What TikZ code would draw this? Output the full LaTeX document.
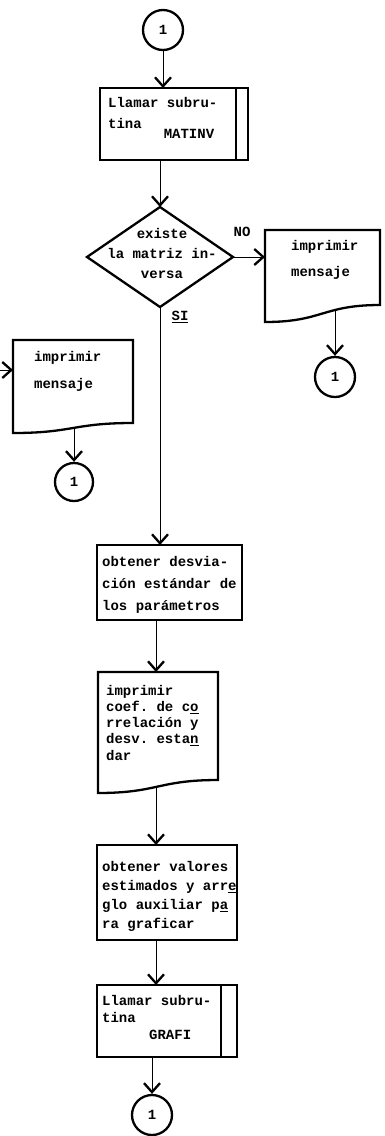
\documentclass[tikz,border=0pt]{standalone}
\usepackage{fontspec}
\setmonofont{Liberation Mono}
\usetikzlibrary{arrows.meta,shapes.geometric,calc,backgrounds}
\begin{document}
\begin{tikzpicture}[x=1pt,y=-1pt,
  line width=2.3pt,
  every node/.style={inner sep=0pt},
  tfont/.style={font=\ttfamily\bfseries\fontsize{14}{#1}\selectfont},
  txt/.style={tfont=#1, align=left, anchor=west},
  proc/.style={draw, fill=white, rectangle, outer sep=0pt},
  spot/.style={rectangle, outer sep=0pt},
  conn/.style={draw, fill=white, circle, minimum size=40, tfont=16},
  dia/.style={draw, fill=white, diamond, outer sep=0pt},
  arr/.style={-{Straight Barb[length=9pt,width=16pt,line width=2.3pt]}}]
\useasboundingbox (0,0) rectangle (384,1136);

% ---------- shapes ----------
\node[conn] (c1) at (163,30) {1};

\node[proc, minimum width=148, minimum height=72] (b1) at (174,124) {};
\draw ($(b1.north east)+(-12,0)$) -- ($(b1.south east)+(-12,0)$);
\node[txt=21] (b1t) at (107,117.5) {Llamar subru-\\tina\hspace*{22pt}\raisebox{-10pt}{MATINV}};

\node[dia, minimum width=146, minimum height=100] (d1) at (160,257) {};
\node[tfont=20, align=center] (d1t) at (162,253) {existe\\la matriz in-\\versa};

\node[tfont=20] (no) at (242,232) {NO};
\node[tfont=20] (si) at (180,317) {\underline{SI}};

\node[spot, minimum width=115, minimum height=75] (doc2) at (322.5,267.5) {};
\draw[fill=white] (doc2.north west) -- (doc2.north east) -- (doc2.south east)
  .. controls (doc2.south) and ($(doc2.south)+(0,17)$) .. ($(doc2.south west)+(0,17)$) -- cycle;
\node[txt=26] (doc2t) at (290,260) {imprimir\\mensaje};
\node[conn] (c2) at (335,377) {1};

\node[spot, minimum width=120, minimum height=83] (doc3) at (73,381.5) {};
\draw[fill=white] (doc3.north west) -- (doc3.north east) -- (doc3.south east)
  .. controls (doc3.south) and ($(doc3.south)+(0,10)$) .. ($(doc3.south west)+(0,10)$) -- cycle;
\node[txt=27] (doc3t) at (33,371.5) {imprimir\\mensaje};
\node[conn, minimum size=38] (c3) at (74,482) {1};

\node[proc, minimum width=145, minimum height=75] (b2) at (169.5,582.5) {};
\node[txt=22] (b2t) at (101,585) {obtener desvia-\\ción estándar de\\los parámetros};

\node[spot, minimum width=120, minimum height=108] (doc4) at (158,726) {};
\draw[fill=white] (doc4.north west) -- (doc4.north east) -- (doc4.south east)
  .. controls (doc4.south) and ($(doc4.south)+(0,13)$) .. ($(doc4.south west)+(0,13)$) -- cycle;
\node[txt=16.25] (doc4t) at (105,722.5) {imprimir\\coef. de c\underline{o}\\rrelación y\\desv. esta\underline{n}\\dar};

\node[proc, minimum width=140, minimum height=95] (b3) at (167,892.5) {};
\node[txt=19] (b3t) at (101,896.5) {obtener valores\\estimados y arr\underline{e}\\glo auxiliar p\underline{a}\\ra graficar};

\node[proc, minimum width=140, minimum height=72] (b4) at (167,1021) {};
\draw ($(b4.north east)+(-16,0)$) -- ($(b4.south east)+(-16,0)$);
\node[txt=17] (b4t) at (101,1017.5) {Llamar subru-\\tina\\\hspace*{47pt}GRAFI};

\node[conn] (c4) at (152,1115) {1};

% ---------- connectors ----------
\begin{pgfonlayer}{background}
\fill[white] (0,0) rectangle (384,1136);
\coordinate (in3) at (0,370);
\coordinate (spine) at (156,0);
\draw[arr] (c1.south) -- (c1.south |- b1.north);
\draw[arr] (b1.south -| d1.north) -- (d1.north);
\draw[arr] (d1.east) -- (d1.east -| doc2.west);
\draw[arr] (doc2.south -| c2.north) -- (c2.north);
\draw[arr] (d1.south) -- (d1.south |- b2.north);
\draw[arr] (in3) -- (in3 -| doc3.west);
\draw[arr] (doc3.south -| c3.north) -- (c3.north);
\draw[arr] (b2.south -| spine) -- (doc4.north -| spine);
\draw[arr] (doc4.south -| spine) -- (b3.north -| spine);
\draw[arr] (b3.south -| spine) -- (b4.north -| spine);
\draw[arr] (b4.south -| c4.north) -- (c4.north);
\end{pgfonlayer}
\end{tikzpicture}
\end{document}
